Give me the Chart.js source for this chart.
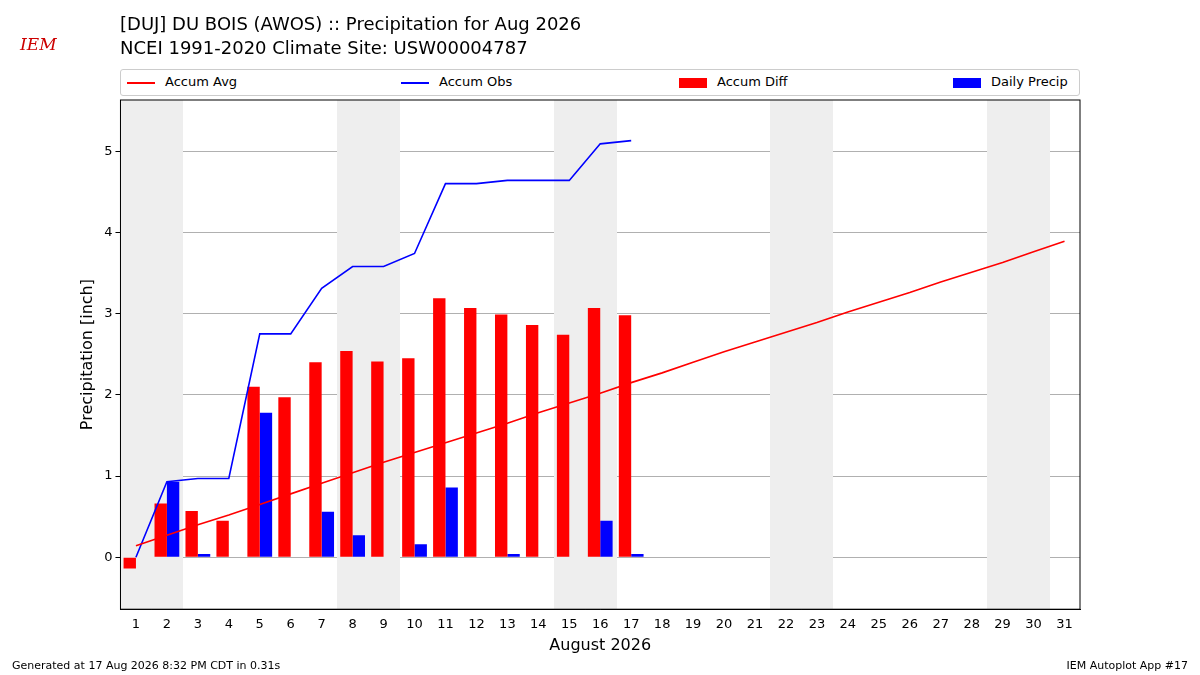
<!DOCTYPE html>
<html lang="en">
<head>
<meta charset="UTF-8">
<title>DUJ Precipitation</title>
<script src="https://cdn.jsdelivr.net/npm/chart.js"></script>
<style>
  body { margin: 0; width: 1200px; height: 675px; position: relative; font-family: "DejaVu Sans", sans-serif; background: #fff; overflow: hidden; }
  #chartWrap { position: absolute; left: 0; top: 0; width: 1200px; height: 675px; }
  .title { position: absolute; left: 120px; font-size: 18px; color: #000; }
  .legend { position: absolute; left: 120px; top: 69px; width: 958px; height: 25px; border: 1px solid #ccc; border-radius: 3px; font-size: 13px; background: #fff; }
  .item { position: absolute; top: 4px; }
  .line { display: inline-block; width: 28px; height: 2px; vertical-align: middle; margin-right: 10px; }
  .box { display: inline-block; width: 28px; height: 10px; vertical-align: middle; margin-right: 10px; }
  .foot { position: absolute; top: 659px; font-size: 11px; }
  .logo { position: absolute; left: 20px; top: 34px; color: #c00; font-family: "DejaVu Serif", serif; font-style: italic; font-size: 17px; }
</style>
</head>
<body>
<div id="chartWrap"><canvas id="chart" width="1200" height="675"></canvas></div>
<div class="logo">IEM</div>
<div class="title" style="top:13px">[DUJ] DU BOIS (AWOS) :: Precipitation for Aug 2026</div>
<div class="title" style="top:37px">NCEI 1991-2020 Climate Site: USW00004787</div>
<div class="legend">
  <span class="item" style="left:6px"><span class="line" style="background:red"></span>Accum Avg</span>
  <span class="item" style="left:280px"><span class="line" style="background:blue"></span>Accum Obs</span>
  <span class="item" style="left:558px"><span class="box" style="background:red"></span>Accum Diff</span>
  <span class="item" style="left:832px"><span class="box" style="background:blue"></span>Daily Precip</span>
</div>
<div class="foot" style="left:12px">Generated at 17 Aug 2026 8:32 PM CDT in 0.31s</div>
<div class="foot" style="right:12px">IEM Autoplot App #17</div>
<script>
const days = ['1','2','3','4','5','6','7','8','9','10','11','12','13','14','15','16','17','18','19','20','21','22','23','24','25','26','27','28','29','30','31'];
const accumAvg = [0.14,0.27,0.40,0.52,0.65,0.78,0.91,1.04,1.17,1.29,1.41,1.53,1.65,1.78,1.90,2.02,2.15,2.27,2.40,2.53,2.65,2.77,2.89,3.02,3.14,3.26,3.39,3.51,3.63,3.76,3.89];
const accumObs = [0.00,0.93,0.97,0.97,2.75,2.75,3.31,3.58,3.58,3.74,4.60,4.60,4.64,4.64,4.64,5.09,5.13];
const accumDiff = [-0.14,0.66,0.57,0.45,2.10,1.97,2.40,2.54,2.41,2.45,3.19,3.07,2.99,2.86,2.74,3.07,2.98];
const dailyPrecip = [0,0.93,0.04,0,1.78,0,0.56,0.27,0,0.16,0.86,0,0.04,0,0,0.45,0.04];
const weekendDays = [1,2,8,9,15,16,22,23,29,30];

const shade = {
  id: 'shade',
  beforeDatasetsDraw(chart) {
    const {ctx, chartArea, scales} = chart;
    const x = scales.x;
    const half = (x.getPixelForValue(1) - x.getPixelForValue(0)) / 2;
    ctx.save();
    ctx.beginPath();
    ctx.rect(chartArea.left, chartArea.top, chartArea.right - chartArea.left, chartArea.bottom - chartArea.top);
    ctx.clip();
    ctx.fillStyle = '#eeeeee';
    weekendDays.forEach(d => {
      const c = x.getPixelForValue(d - 1);
      ctx.fillRect(Math.round(c - half), chartArea.top, Math.round(half * 2) + 1, chartArea.bottom - chartArea.top);
    });
    ctx.restore();
  }
};

Chart.defaults.font.family = '"DejaVu Sans", sans-serif';
Chart.defaults.color = '#000';

new Chart(document.getElementById('chart'), {
  data: {
    labels: days,
    datasets: [
      {type: 'line', label: 'Accum Avg', data: accumAvg, borderColor: 'red', borderWidth: 1.6, pointRadius: 0, order: 0},
      {type: 'line', label: 'Accum Obs', data: accumObs, borderColor: 'blue', borderWidth: 1.6, pointRadius: 0, order: 0},
      {type: 'bar', label: 'Accum Diff', data: accumDiff, backgroundColor: 'red', order: 1, categoryPercentage: 0.8, barPercentage: 1},
      {type: 'bar', label: 'Daily Precip', data: dailyPrecip, backgroundColor: 'blue', order: 1, categoryPercentage: 0.8, barPercentage: 1}
    ]
  },
  options: {
    responsive: false,
    animation: false,
    layout: {padding: {left: 74, right: 120, top: 100, bottom: 16}},
    plugins: {legend: {display: false}, tooltip: {enabled: false}},
    scales: {
      x: {
        grid: {display: false, drawTicks: true, tickLength: 5},
        border: {color: '#000'},
        ticks: {font: {size: 13}, maxRotation: 0, autoSkip: false},
        title: {display: true, text: 'August 2026', font: {size: 16}, padding: {top: 0}}
      },
      y: {
        min: -0.64, max: 5.63,
        afterBuildTicks(s) { s.ticks = [0,1,2,3,4,5].map(v => ({value: v})); },
        grid: {color: '#b0b0b0', tickLength: 5, tickColor: '#000'},
        border: {color: '#000'},
        ticks: {font: {size: 13}},
        title: {display: true, text: 'Precipitation [inch]', font: {size: 16}}
      }
    }
  },
  plugins: [shade, {
    id: 'frame',
    afterDraw(chart) {
      const a = chart.chartArea, ctx = chart.ctx;
      ctx.save(); ctx.strokeStyle = '#000'; ctx.lineWidth = 1;
      ctx.strokeRect(a.left, a.top, a.right - a.left, a.bottom - a.top);
      ctx.restore();
    }
  }]
});
</script>
</body>
</html>
